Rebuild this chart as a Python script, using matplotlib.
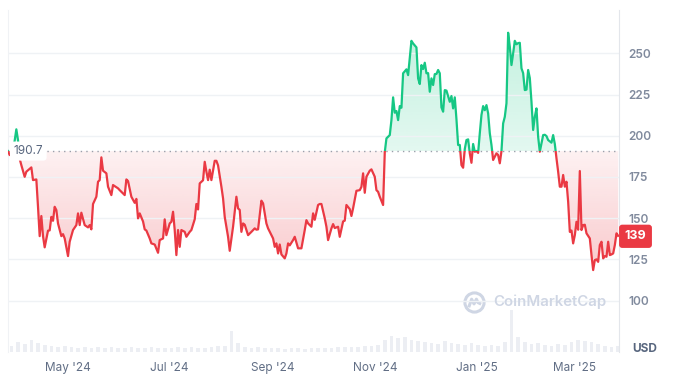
import numpy as np
import pandas as pd
import matplotlib
matplotlib.use("Agg")
import matplotlib.pyplot as plt
import matplotlib.dates as mdates
import matplotlib.transforms as mtransforms
from matplotlib.patches import Rectangle, PathPatch, Circle
from matplotlib.path import Path

plt.rcParams["font.family"] = ["Inter", "DejaVu Sans"]

# price series (days since start date)
start_date = "2024-03-26"
day_offsets = [
    0, 1, 3, 4, 5, 6, 7, 8, 10, 11, 14, 15, 17, 18, 19, 20, 21, 22, 24, 25, 26, 27, 28, 29, 30,
    32, 33, 34, 36, 37, 39, 41, 42, 43, 44, 46, 48, 49, 50, 51, 53, 54, 55, 56, 57, 59, 60, 62, 63,
    66, 67, 70, 71, 72, 74, 76, 77, 78, 79, 81, 82, 83, 85, 86, 88, 90, 91, 93, 94, 95, 97, 98, 99,
    100, 101, 102, 103, 104, 106, 107, 109, 110, 112, 113, 114, 115, 117, 118, 119, 120, 121, 122,
    124, 125, 126, 128, 129, 130, 132, 133, 135, 137, 138, 139, 140, 141, 142, 144, 146, 148, 149,
    150, 152, 153, 155, 156, 158, 159, 160, 161, 162, 163, 164, 166, 167, 168, 169, 171, 172, 174,
    176, 178, 179, 180, 182, 183, 184, 186, 187, 188, 190, 191, 192, 194, 195, 196, 198, 199, 201,
    202, 203, 205, 206, 207, 209, 211, 212, 213, 214, 215, 217, 218, 220, 221, 222, 223, 225, 226,
    227, 229, 230, 231, 232, 233, 234, 235, 236, 237, 239, 240, 242, 243, 245, 246, 247, 248, 249,
    250, 251, 252, 253, 254, 255, 256, 257, 258, 259, 260, 261, 262, 263, 264, 265, 266, 267, 268,
    269, 270, 271, 272, 273, 274, 275, 276, 277, 278, 279, 280, 281, 282, 283, 284, 285, 286, 287,
    288, 289, 290, 291, 292, 293, 294, 295, 296, 297, 298, 299, 300, 301, 302, 303, 304, 305, 306,
    307, 308, 309, 310, 311, 312, 313, 314, 315, 316, 317, 318, 319, 320, 321, 322, 323, 324, 326,
    327, 328, 329, 330, 331, 332, 333, 334, 335, 336, 337, 338, 339, 340, 341, 342, 343, 344, 345,
    346, 347, 349, 350, 351, 352, 353, 354, 355, 356, 357, 358, 359, 360, 361, 362, 363, 364, 365,
    366,
]
prices = [
    190.7, 188.3, 191.3, 197.0, 203.9, 197.4, 186.0, 182.2, 175.1, 178.2, 180.8, 173.1, 173.5, 156.9,
    139.1, 151.3, 139.1, 132.3, 142.4, 142.6, 150.8, 148.4, 156.9, 154.9, 146.8,
    139.1, 140.3, 137.7, 127.0, 135.7, 142.8, 145.8, 152.9, 145.8, 153.3, 145.8, 144.4, 145.8, 143.2,
    158.6, 163.0, 172.1, 173.1, 186.9, 178.8, 177.2, 169.1, 164.0, 170.1,
    168.1, 167.0, 164.0, 173.5, 172.5, 163.0, 159.3, 161.7, 149.9, 152.9, 148.0, 143.2, 142.5, 137.7,
    134.7, 134.0, 129.0, 136.7, 137.7, 149.3, 139.7, 146.8, 147.8, 153.9,
    142.8, 127.6, 142.8, 132.6, 142.8, 141.7, 138.7, 141.7, 142.8, 149.3, 158.6, 155.3, 171.1, 173.0,
    184.2, 178.2, 173.1, 179.4, 173.1,
    184.8, 184.8, 182.0, 169.1, 162.0, 150.8, 138.7, 130.2, 144.8, 163.0, 155.9, 155.0, 141.7, 146.8,
    146.0, 139.7, 141.7, 143.8, 143.0,
    143.2, 160.6, 159.0, 146.8, 143.8, 139.7, 137.7, 132.6, 134.7, 128.6, 134.0, 128.0, 125.6, 128.6,
    134.7, 133.5, 136.7, 138.7, 131.7,
    131.7, 142.8, 148.8, 146.8, 144.8, 152.9, 149.0, 158.0, 158.6, 158.6, 149.9, 144.8, 136.7, 143.8,
    146.4, 144.0, 144.8, 138.7, 148.0,
    148.5, 158.0, 155.5, 151.3, 156.0, 166.6, 167.0, 169.0, 177.2, 165.4, 175.1, 178.8, 179.6, 175.1,
    167.0, 166.0, 163.0, 158.0, 190.0,
    198.4, 200.4, 209.5, 223.3, 214.0, 215.0, 209.5, 218.0, 217.0, 237.9, 240.3, 236.8, 257.6, 256.0,
    253.6, 234.8, 231.4, 242.9, 240.5,
    244.3, 237.9, 238.0, 226.7, 234.8, 230.8, 237.4, 237.5, 239.9, 237.9, 217.2, 214.6, 227.7, 227.4,
    224.1, 220.6, 224.1, 216.6, 223.3,
    210.0, 194.4, 194.4, 182.2, 180.6, 192.0, 197.4, 197.8, 189.3, 183.6, 195.0, 190.3, 190.8, 189.6,
    201.5, 212.6, 218.0, 215.5, 218.6,
    213.6, 201.5, 194.4, 185.3, 187.3, 189.3, 188.3, 183.3, 190.7, 207.5, 211.5, 219.7, 262.5, 254.0,
    242.9, 250.0, 257.6, 255.5, 256.2,
    256.4, 240.9, 238.0, 227.7, 228.0, 239.9, 235.0, 220.6, 203.5, 211.5, 216.6, 199.4, 190.3, 195.4,
    200.4, 200.6, 199.8, 197.4, 195.8,
    200.4, 195.0, 186.3, 178.2, 169.1, 169.1, 176.2, 169.1, 172.1, 160.0, 141.7, 142.5, 134.7, 139.7,
    147.8, 143.0, 178.6, 142.8, 145.8,
    146.0, 140.8, 137.7, 127.6, 118.5, 124.6, 125.0, 123.5, 133.7, 135.7, 125.6, 127.0, 126.6, 135.7,
    127.6, 128.0, 128.6, 133.7, 140.8,
    139.3,
]

# volume, 4-day buckets, relative height
volume_step = 4
volume = [
    6, 10, 8, 12, 9, 7, 6, 5, 6,
    5, 4, 5, 4, 5, 4, 5, 4, 4, 5, 4, 4, 5, 4, 4,
    4, 5, 4, 5, 4, 4, 5, 6,
    6, 21, 9,
    5, 4, 5, 4, 4, 4, 3, 4, 4, 3, 4, 4, 4, 4, 5, 5, 5, 5, 6, 6,
    7, 12, 16, 14, 15, 12, 11, 10, 9, 8, 11, 9, 8, 7, 9,
    7, 6, 7, 6, 10, 42, 15, 10, 8, 9, 7, 6, 8, 7, 10, 12, 11, 10, 8, 6, 5, 6,
]

open_price = 190.7
last_price = 139
y_ticks = [100, 125, 150, 175, 200, 225, 250]
month_ticks = ["2024-05-01", "2024-07-01", "2024-09-01", "2024-11-01", "2025-01-01", "2025-03-01"]

GREEN = "#16c784"
RED = "#ea3943"

t0 = mdates.date2num(pd.Timestamp(start_date))
x = t0 + np.array(day_offsets, dtype=float)
y = np.array(prices)

fig = plt.figure(figsize=(6.76, 3.76), dpi=100)
ax = fig.add_axes([8 / 676, 24 / 376, 611 / 676, 342 / 376])
ax2 = ax.twinx()
ax.set_zorder(ax2.get_zorder() + 1)
ax.patch.set_visible(False)

# volume bars in the background
vx = t0 + np.arange(len(volume)) * volume_step + volume_step / 2
ax2.bar(vx, volume, width=volume_step * 0.55, color="#eceef3", lw=0)
ax2.set_ylim(0, 342)
ax2.axis("off")

x_lo, x_hi = t0, t0 + 366.5
y_lo, y_hi = 68.8, 276.3


def gradient_fill(where, color, a_base, a_far, far_value):
    poly = ax.fill_between(x, y, open_price, where=where, interpolate=True,
                           color="none", lw=0)
    paths = poly.get_paths()
    if not paths:
        return
    path = Path.make_compound_path(*paths)
    rgb = matplotlib.colors.to_rgb(color)
    alphas = np.linspace(a_base, a_far, 256)
    img = np.zeros((256, 1, 4))
    img[:, 0, :3] = rgb
    img[:, 0, 3] = alphas
    lo, hi = sorted([open_price, far_value])
    origin = "lower" if far_value > open_price else "upper"
    im = ax.imshow(img, extent=[x_lo, x_hi, lo, hi], origin=origin,
                   aspect="auto", zorder=1, interpolation="bilinear")
    im.set_clip_path(PathPatch(path, transform=ax.transData))


gradient_fill(y >= open_price, GREEN, 0.12, 0.26, 265)
gradient_fill(y <= open_price, RED, 0.07, 0.27, 118)

# line, green above the open price, red below
up, = ax.plot(x, y, color=GREEN, lw=1.6, zorder=3, solid_joinstyle="round")
up.set_clip_path(Rectangle((x_lo, open_price), x_hi - x_lo, 500, transform=ax.transData))
dn, = ax.plot(x, y, color=RED, lw=1.6, zorder=3, solid_joinstyle="round")
dn.set_clip_path(Rectangle((x_lo, 0), x_hi - x_lo, open_price, transform=ax.transData))

ax.axhline(open_price, color="#9aa0ab", lw=1, ls=(0, (1, 3)), zorder=2)

ax.set_xlim(x_lo, x_hi)
ax.set_ylim(y_lo, y_hi)

ax.set_yticks(y_ticks)
ax.yaxis.tick_right()
ax.tick_params(axis="y", length=0, pad=6.5, labelcolor="#808a9d", labelsize=8.5)
for lab in ax.get_yticklabels():
    lab.set_fontweight("semibold")
ax.set_xticks([mdates.date2num(pd.Timestamp(d)) for d in month_ticks])
ax.xaxis.set_major_formatter(mdates.DateFormatter("%b '%y"))
ax.tick_params(axis="x", length=0, pad=7, labelcolor="#616e85", labelsize=8.5)
ax.grid(axis="y", color="#eff2f5", lw=1, zorder=0)
ax.spines["top"].set_visible(False)
ax.spines["bottom"].set_visible(False)
ax.spines["left"].set_color("#f0f2f5")
ax.spines["right"].set_color("#e3e6eb")

blend = mtransforms.blended_transform_factory(ax.transAxes, ax.transData)
ax.text(0.009, open_price, f"{open_price}", transform=blend, ha="left", va="center",
        color="#58667e", fontsize=8.5, zorder=5,
        bbox=dict(boxstyle="round,pad=0.3,rounding_size=0.3", fc="white", ec="none"))
ax.text(1.027, last_price, f"{last_price}", transform=blend, ha="center", va="center",
        color="white", fontsize=9, fontweight="bold", zorder=5, clip_on=False,
        bbox=dict(boxstyle="round,pad=0.45,rounding_size=0.25", fc=RED, ec="none"))

fig.text(632 / 676, 1 - 349 / 376, "USD", ha="left", va="center",
         color="#58667e", fontsize=8.5, fontweight="bold")

# CoinMarketCap watermark
wm = "#cfd6e4"
fig.text(493 / 676, 1 - 302 / 376, "CoinMarketCap", ha="left", va="center",
         color=wm, fontsize=10.8, fontweight="semibold", zorder=6)
lax = fig.add_axes([463 / 676, 1 - 314 / 376, 23 / 676, 23 / 376])
lax.set_xlim(-1.2, 1.2)
lax.set_ylim(-1.2, 1.2)
lax.axis("off")
lax.add_patch(Circle((0, 0), 1.0, fill=False, ec=wm, lw=2.2))
lax.plot([-0.55, -0.3, -0.05, 0.2, 0.35, 0.55], [-0.35, 0.35, -0.15, 0.35, 0.0, -0.1],
         color=wm, lw=2.2, solid_joinstyle="round")

fig.savefig("out.png", dpi=100)
